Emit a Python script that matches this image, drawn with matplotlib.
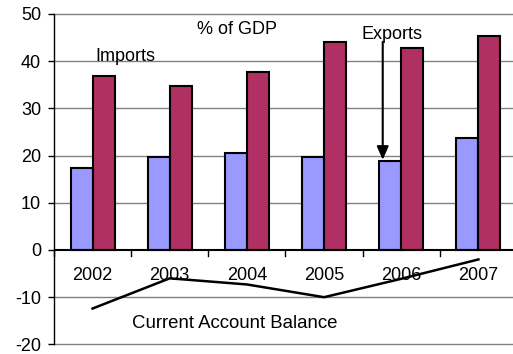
import matplotlib
matplotlib.use("Agg")
import matplotlib.pyplot as plt
import numpy as np

years = ["2002", "2003", "2004", "2005", "2006", "2007"]
exports = [17.4, 19.6, 20.6, 19.6, 18.8, 23.8]
imports = [36.9, 34.7, 37.7, 44.1, 42.9, 45.3]
current_account = [-12.4, -6.0, -7.3, -10.0, -6.1, -2.0]
y_ticks = [-20, -10, 0, 10, 20, 30, 40, 50]

plt.rcParams["font.family"] = ["Liberation Sans", "DejaVu Sans"]
fs = 13

fig = plt.figure(figsize=(5.13, 3.54), dpi=100)
ax = fig.add_axes([54 / 513, 9.6 / 354, 463 / 513, 330.4 / 354])

x = np.arange(len(years))
bw = 0.285
ax.bar(x - bw / 2, exports, bw, color="#9999FF", edgecolor="black", linewidth=1.5, zorder=3)
ax.bar(x + bw / 2, imports, bw, color="#B03064", edgecolor="black", linewidth=1.5, zorder=3)
ax.plot(x, current_account, color="black", linewidth=1.8, zorder=4)

ax.set_xlim(-0.5, len(years) - 0.5)
ax.set_ylim(-20, 50)
ax.set_yticks(y_ticks)
ax.set_yticklabels([str(v) for v in y_ticks], fontsize=fs)
for v in y_ticks:
    if v != 0:
        ax.axhline(v, color="#808080", linewidth=1.0, zorder=1, clip_on=False)
ax.axhline(0, color="black", linewidth=1.5, zorder=5)

ax.spines["top"].set_visible(False)
ax.spines["right"].set_visible(False)
ax.spines["left"].set_linewidth(1.0)
ax.spines["bottom"].set_visible(False)
ax.tick_params(axis="y", direction="out", length=4.3, width=1.0, pad=5)

# category boundary ticks on the zero line
ax.set_xticks([])
for b in np.arange(-0.5, len(years), 1.0):
    ax.plot([b, b], [0, -1.3], color="black", linewidth=1.0, zorder=5, clip_on=False)

for xi, label in zip(x, years):
    ax.text(xi, -5.3, label, ha="center", va="center", fontsize=fs, zorder=6)

ax.text(1.87, 46.8, "% of GDP", ha="center", va="center", fontsize=fs)
ax.text(0.426, 41.1, "Imports", ha="center", va="center", fontsize=fs)
ax.text(3.88, 45.6, "Exports", ha="center", va="center", fontsize=fs)
ax.text(1.845, -15.5, "Current Account Balance", ha="center", va="center", fontsize=13.4)
ax.annotate("", xy=(3.76, exports[4] + 0.3), xytext=(3.76, 44.1),
            arrowprops=dict(arrowstyle="-|>,head_length=0.8,head_width=0.35",
                            color="black", linewidth=1.5, shrinkA=0, shrinkB=0),
            zorder=6)

fig.savefig("out.png", dpi=100)
